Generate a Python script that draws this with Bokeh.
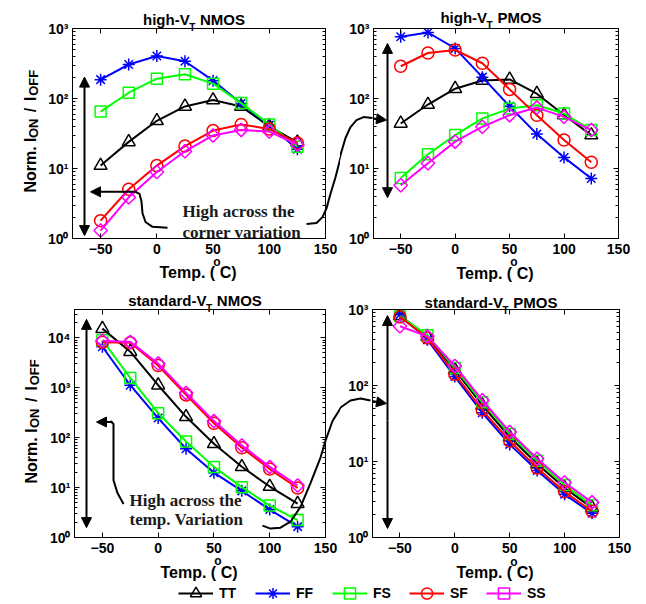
import math

from bokeh.core.properties import value
from bokeh.embed import file_html
from bokeh.layouts import column, row
from bokeh.models import (Arrow, ColumnDataSource, CustomJSTickFormatter, FixedTicker,
                          Legend, LegendItem, LinearAxis, LogAxis, NormalHead, Range1d)
from bokeh.plotting import figure
from bokeh.resources import INLINE

SANS = "Liberation Sans"
SERIF = "Liberation Serif"

# ---------------------------------------------------------------- data
temps = [-50, -25, 0, 25, 50, 75, 100, 125]
corners = ["TT", "FF", "FS", "SF", "SS"]

# high-VT NMOS: normalised Ion/Ioff per process corner
hvt_nmos_tt = [11, 24, 48, 77, 95, 77, 40, 23.7]
hvt_nmos_ff = [186, 306, 404, 341, 180, 85, 41.7, 18.8]
hvt_nmos_fs = [65, 121, 192, 222, 163, 86, 42.6, 20.4]
hvt_nmos_sf = [1.8, 5.06, 11, 20.9, 34.8, 42.6, 36.7, 23.2]
hvt_nmos_ss = [1.3, 3.87, 8.9, 17.6, 29.7, 35.6, 33.7, 22]

# high-VT PMOS
hvt_pmos_tt = [44, 82, 138, 181, 187, 117, 58, 30]
hvt_pmos_ff = [761, 877, 520, 202, 77.6, 31, 14.4, 7.2]
hvt_pmos_fs = [7.3, 16, 30, 52, 71.8, 80, 61, 35.4]
hvt_pmos_sf = [289, 447, 493, 319, 135, 57.8, 25.6, 12.3]
hvt_pmos_ss = [5.76, 11.9, 24.2, 39.5, 57.8, 74.2, 54.7, 35.4]

# standard-VT NMOS
svt_nmos_tt = [15300, 5290, 1125, 262, 75.5, 26.1, 10.5, 4.77]
svt_nmos_ff = [6640, 1125, 247, 60, 19.9, 8.6, 3.63, 1.65]
svt_nmos_fs = [9000, 1570, 310, 84, 26, 10.2, 4.36, 2.23]
svt_nmos_sf = [8200, 8000, 2800, 720, 195, 63, 23.5, 9.8]
svt_nmos_ss = [8800, 8300, 3050, 790, 215, 70, 26, 11]

# standard-VT PMOS
svt_pmos_tt = [830, 440, 160, 55, 21, 9.3, 4.5, 2.45]
svt_pmos_ff = [858, 401, 131, 43.8, 16.8, 7.6, 3.7, 2.08]
svt_pmos_fs = [820, 460, 170, 60, 23, 10.2, 4.9, 2.65]
svt_pmos_sf = [800, 421, 141, 47.5, 18.6, 8.2, 4.0, 2.21]
svt_pmos_ss = [601, 443, 181, 64, 24.5, 10.9, 5.3, 2.9]

x_ticks = [-50, 0, 50, 100, 150]
X_START, X_END = -75, 150

# ---------------------------------------------------------------- styles
COLORS = {"TT": "#000000", "FF": "#0000ff", "FS": "#00ff00", "SF": "#ff0000", "SS": "#ff00ff"}
MARKERS = {
    "TT": dict(marker="triangle", size=13, angle=0.0),
    "FF": dict(marker="asterisk", size=12, angle=0.0),
    "FS": dict(marker="square", size=11, angle=0.0),
    "SF": dict(marker="circle", size=12, angle=0.0),
    "SS": dict(marker="square", size=9.5, angle=math.pi / 4),
}

# advance widths of Liberation Sans Bold (1/1000 em), used to lay out mixed-size labels
BOLD_W = {
    " ": 278, ".": 278, "-": 333, "(": 333, ")": 333, "/": 278,
    "a": 556, "c": 556, "d": 611, "e": 556, "g": 611, "h": 611, "i": 278, "m": 889,
    "n": 611, "o": 611, "p": 611, "r": 389, "s": 556, "t": 333,
    "C": 722, "F": 611, "I": 278, "M": 833, "N": 722, "O": 778, "P": 667, "S": 667,
    "T": 611, "V": 667,
}


def text_w(s, size):
    return sum(BOLD_W.get(ch, 556) for ch in s) * size / 1000.0


POW10 = CustomJSTickFormatter(code="""
const sup = ["\u2070", "\u00b9", "\u00b2", "\u00b3", "\u2074", "\u2075"];
return "10" + sup[Math.round(Math.log10(tick))];
""")
BLANK = CustomJSTickFormatter(code="return '';")


def style_axis(ax, labelled):
    ax.axis_line_color = "black"
    ax.axis_line_width = 1
    ax.major_tick_in = 5
    ax.major_tick_out = 0
    ax.minor_tick_in = 3
    ax.minor_tick_out = 0
    ax.major_tick_line_color = "black"
    ax.minor_tick_line_color = "black"
    if labelled:
        ax.major_label_text_font = SANS
        ax.major_label_text_font_style = "bold"
        ax.major_label_text_font_size = "14px"
        ax.major_label_text_color = "black"
    else:
        # box side: ticks only
        ax.formatter = BLANK
        ax.major_label_text_font_size = "6px"
        ax.major_label_text_color = None
        ax.major_label_standoff = 0


class Panel:
    """One log-scale panel; frame and origin are given in page pixels."""

    def __init__(self, origin, size, frame, y_end):
        ox, oy = origin
        w, h = size
        fl, fr, ft, fb = frame
        self.frame = frame
        self.y_end = y_end
        p = figure(width=w, height=h, x_range=Range1d(X_START, X_END), y_range=Range1d(1, y_end),
                   y_axis_type="log", output_backend="svg", toolbar_location=None,
                   min_border_left=fl - ox, min_border_right=ox + w - fr,
                   min_border_top=ft - oy, min_border_bottom=oy + h - fb)
        p.grid.visible = False
        p.outline_line_color = "black"
        p.outline_line_width = 1
        p.outline_line_alpha = 1.0
        p.background_fill_color = "white"
        p.border_fill_color = "white"

        top_dec = int(math.floor(math.log10(y_end) + 1e-9))
        decades = [10 ** k for k in range(0, top_dec + 1)]
        minors = [m * d for d in decades for m in range(2, 10) if m * d < y_end]
        yt = FixedTicker(ticks=decades, minor_ticks=minors)
        xt = FixedTicker(ticks=x_ticks)

        p.xaxis[0].ticker = xt
        p.yaxis[0].ticker = yt
        p.yaxis[0].formatter = POW10
        style_axis(p.xaxis[0], True)
        style_axis(p.yaxis[0], True)
        p.xaxis[0].major_label_standoff = 5
        p.yaxis[0].major_label_standoff = 4

        top = LinearAxis(ticker=xt)
        right = LogAxis(ticker=yt)
        style_axis(top, False)
        style_axis(right, False)
        p.add_layout(top, "above")
        p.add_layout(right, "right")
        self.fig = p

    def to_data(self, px, py):
        fl, fr, ft, fb = self.frame
        x = X_START + (px - fl) / (fr - fl) * (X_END - X_START)
        top = math.log10(self.y_end)
        ly = top - (py - ft) / (fb - ft) * top
        return x, 10 ** ly

    def series(self, values):
        for c in corners:
            self.fig.line(temps, values[c], line_color=COLORS[c], line_width=2)
            m = MARKERS[c]
            self.fig.scatter(temps, values[c], marker=m["marker"], size=m["size"], angle=m["angle"],
                             line_color=COLORS[c], fill_color=None, line_width=1.5)

    def text(self, px, py, s, size, font=SANS, angle=0.0, color="black"):
        x, y = self.to_data(px, py)
        self.fig.text(x=[x], y=[y], text=[s], text_font=value(font),
                      text_font_size=value(f"{size}px"), text_font_style="bold",
                      text_color=color, text_align="left", text_baseline="alphabetic",
                      angle=angle, level="overlay")

    def title(self, head, tail, baseline):
        fl, fr, ft, fb = self.frame
        w_head, w_sub, w_sp = text_w(head, 15), text_w("T", 10), text_w(" ", 15)
        total = w_head + w_sub + w_sp + text_w(tail, 15)
        x = (fl + fr) / 2 - total / 2 - 5
        self.text(x, baseline, head, 15)
        self.text(x + w_head - 0.5, baseline + 8, "T", 10)
        self.text(x + w_head + w_sub + w_sp, baseline, tail, 15)

    def xlabel(self):
        fl, fr, ft, fb = self.frame
        base = fb + 35
        a, b = "Temp. (", "C)"
        total = text_w(a, 16) + text_w("o", 12) + text_w(b, 16) - 4
        x = (fl + fr) / 2 - total / 2 - 1
        self.text(x, base, a, 16)
        x += text_w(a, 16) - 3
        self.text(x, base - 11, "o", 12)
        x += text_w("o", 12) - 1
        self.text(x, base, b, 16)

    def ylabel(self, base_x):
        fl, fr, ft, fb = self.frame
        # (text, size, shift of baseline, gap before)
        segs = [("Norm. I", 16, 0, 0), ("ON", 13, 3, 1), ("/", 16, 0, 7),
                ("I", 16, 0, 7), ("OFF", 13, 3, 1)]
        total = sum(text_w(s, sz) + gap for s, sz, _, gap in segs)
        y = (ft + fb) / 2 - 2 + total / 2
        for s, sz, shift, gap in segs:
            y -= gap
            self.text(base_x + shift, y, s, sz, angle=math.pi / 2)
            y -= text_w(s, sz)

    def note(self, px, py, s):
        self.text(px, py, s, 17, font=SERIF, color="#1a1a1a")

    def curve(self, pts):
        xs, ys = zip(*(self.to_data(px, py) for px, py in pts))
        self.fig.line(list(xs), list(ys), line_color="black", line_width=2, level="overlay")

    def arrow(self, start, end):
        x0, y0 = self.to_data(*start)
        x1, y1 = self.to_data(*end)
        self.fig.add_layout(Arrow(x_start=x0, y_start=y0, x_end=x1, y_end=y1,
                                  end=NormalHead(size=10, fill_color="black", line_color="black",
                                                 line_width=1),
                                  line_color="black", line_width=2))


# ---------------------------------------------------------------- panels (page pixels)
tl = Panel((0, 0), (340, 282), (72, 325, 22, 238), 1e3)
tr = Panel((340, 0), (306, 282), (373, 618, 28, 239), 1e3)
bl = Panel((0, 282), (340, 300), (74, 325, 307, 538), 3.7e4)
br = Panel((340, 282), (306, 300), (372, 619, 309, 537), 1e3)

tl.series(dict(TT=hvt_nmos_tt, FF=hvt_nmos_ff, FS=hvt_nmos_fs, SF=hvt_nmos_sf, SS=hvt_nmos_ss))
tr.series(dict(TT=hvt_pmos_tt, FF=hvt_pmos_ff, FS=hvt_pmos_fs, SF=hvt_pmos_sf, SS=hvt_pmos_ss))
bl.series(dict(TT=svt_nmos_tt, FF=svt_nmos_ff, FS=svt_nmos_fs, SF=svt_nmos_sf, SS=svt_nmos_ss))
br.series(dict(TT=svt_pmos_tt, FF=svt_pmos_ff, FS=svt_pmos_fs, SF=svt_pmos_sf, SS=svt_pmos_ss))

tl.title("high-V", "NMOS", 13)
tr.title("high-V", "PMOS", 17)
bl.title("standard-V", "NMOS", 298)
br.title("standard-V", "PMOS", 302)
for pan in (tl, tr, bl, br):
    pan.xlabel()
tl.ylabel(30)
bl.ylabel(31)

# spread arrows (two heads, drawn as two halves)
tl.arrow((84, 150), (84, 72))
tl.arrow((84, 150), (84, 235))
tr.arrow((387, 120), (387, 43))
tr.arrow((387, 120), (387, 198))
bl.arrow((86, 420), (86, 317))
bl.arrow((86, 420), (86, 528))
br.arrow((387, 420), (387, 315))
br.arrow((387, 420), (387, 528))

# notes and their pointers
tl.note(182, 210, "High across the")
tl.note(182, 232, "corner variation")
tl.curve([(135, 190), (139, 192), (141, 200), (142, 212), (145, 221), (152, 226), (167, 227)])
tl.arrow((136, 190), (90, 190))

bl.note(129, 501, "High across the")
bl.note(129, 520, "temp. Variation")
bl.curve([(110, 420), (113, 423), (113, 447), (113, 480), (117, 493), (123, 504)])
bl.arrow((112, 421), (96, 421))

# links from the left panels into the right panels (drawn in both canvases)
top_link = [(306, 223), (316, 222), (322, 216), (326, 207), (330, 192), (335, 175), (340, 155),
            (345, 138), (350, 127), (356, 120), (363, 117), (372, 118)]
bottom_link = [(262, 526), (270, 529), (280, 528), (290, 522), (300, 507), (310, 483), (320, 457),
               (325, 440), (332, 420), (340, 407), (350, 400), (360, 398), (370, 400)]
tl.curve(top_link)
tr.curve(top_link)
tr.arrow((370, 118), (386, 120))
bl.curve(bottom_link)
br.curve(bottom_link)
br.arrow((368, 400), (386, 403))

# ---------------------------------------------------------------- legend strip
leg = figure(width=646, height=22, x_range=Range1d(0, 1), y_range=Range1d(0, 1),
             x_axis_location=None, y_axis_location=None, output_backend="svg",
             toolbar_location=None, min_border=0)
leg.grid.visible = False
leg.outline_line_color = None
items = []
for c in corners:
    # placeholder point outside the visible range: only the legend glyph shows
    src = ColumnDataSource(dict(x=[5.0, 6.0], y=[5.0, 6.0]))
    ln = leg.line("x", "y", source=src, line_color=COLORS[c], line_width=2)
    m = MARKERS[c]
    sc = leg.scatter("x", "y", source=src, marker=m["marker"], size=m["size"], angle=m["angle"],
                     line_color=COLORS[c], fill_color=None, line_width=1.5)
    items.append(LegendItem(label=c, renderers=[ln, sc]))
legend = Legend(items=items, orientation="horizontal", location=(178, -3), padding=0, margin=0,
                spacing=16, glyph_width=35, glyph_height=28, label_height=28, label_standoff=6,
                border_line_color=None, background_fill_alpha=0,
                label_text_font=SANS, label_text_font_style="bold", label_text_font_size="14px",
                label_text_color="black")
leg.add_layout(legend)

layout = column(row(tl.fig, tr.fig), row(bl.fig, br.fig), leg)
open("out.html", "w").write(file_html(layout, INLINE))
